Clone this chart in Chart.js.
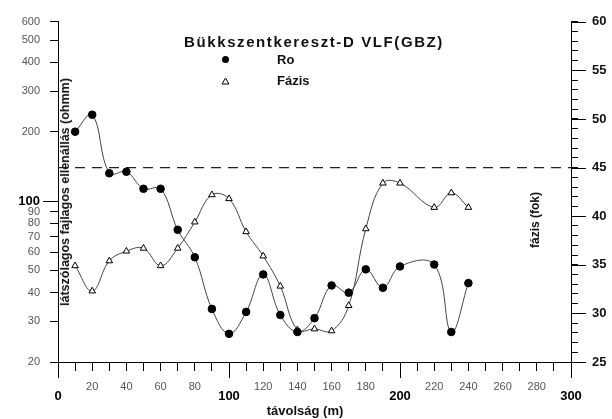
<!DOCTYPE html>
<html>
<head>
<meta charset="utf-8">
<script src="https://cdn.jsdelivr.net/npm/chart.js@4"></script>
<style>
  html, body { margin: 0; padding: 0; background: #fff; }
  #wrap { position: relative; width: 612px; height: 419px; font-family: "Liberation Sans", Arial, sans-serif; }
  #c { position: absolute; left: 0; top: 0; }
  .t { position: absolute; white-space: nowrap; color: #111; font-weight: bold; }
  #title { left: 314px; top: 41px; transform: translate(-50%, -50%); font-size: 15px; letter-spacing: 1.6px; }
  #leg1, #leg2 { left: 277px; font-size: 13px; transform: translateY(-50%); }
  #leg1 { top: 59px; }
  #leg2 { top: 80px; }
  #mk1 { position: absolute; left: 222px; top: 56px; width: 7px; height: 7px; border-radius: 50%; background: #000; }
  #mk2 { position: absolute; left: 221px; top: 77px; }
  #ytitle { left: 65px; top: 192px; transform: translate(-50%, -50%) rotate(-90deg); font-size: 12.5px; }
  #y2title { left: 535px; top: 220px; transform: translate(-50%, -50%) rotate(-90deg); font-size: 12px; }
  #xtitle { left: 305px; top: 410px; transform: translate(-50%, -50%); font-size: 13px; }
</style>
</head>
<body>
<div id="wrap">
  <canvas id="c" width="612" height="419"></canvas>
  <div class="t" id="title">Bükkszentkereszt-D VLF(GBZ)</div>
  <div id="mk1"></div>
  <svg id="mk2" width="9" height="8" viewBox="0 0 9 8"><polygon points="4.5,1 8,7 1,7" fill="#fff" stroke="#000" stroke-width="1"/></svg>
  <div class="t" id="leg1">Ro</div>
  <div class="t" id="leg2">Fázis</div>
  <div class="t" id="ytitle">látszólagos fajlagos ellenállás (ohmm)</div>
  <div class="t" id="y2title">fázis (fok)</div>
  <div class="t" id="xtitle">távolság (m)</div>
</div>
<script>
// ---- data ----
const distances = [10, 20, 30, 40, 50, 60, 70, 80, 90, 100, 110, 120, 130, 140, 150, 160, 170, 180, 190, 200, 220, 230, 240];
const roValues = [200, 237, 132, 134, 113, 113, 75, 57, 34, 26.5, 33, 48, 32, 27, 31, 43, 40, 50.5, 42, 52, 53, 27, 44];
const phaseValues = [34.9, 32.3, 35.4, 36.4, 36.7, 34.9, 36.7, 39.4, 42.2, 41.8, 38.4, 35.9, 32.8, 28.3, 28.4, 28.2, 30.8, 38.7, 43.4, 43.4, 40.9, 42.4, 40.9];
const refPhase = 45;
const leftTicks = [20, 30, 40, 50, 60, 70, 80, 90, 100, 200, 300, 400, 500, 600];
const xMajorTicks = [0, 100, 200, 300];
const rightMajorTicks = [25, 30, 35, 40, 45, 50, 55, 60];

const FONT = '"Liberation Sans", Arial, sans-serif';

const axisExtras = {
  id: 'axisExtras',
  afterDraw(chart) {
    const c = chart.ctx, ca = chart.chartArea;
    const sx = chart.scales.x, sy = chart.scales.y, sy1 = chart.scales.y1;
    c.save();
    c.strokeStyle = '#000';
    c.lineWidth = 1;
    c.beginPath();
    c.moveTo(ca.left - 8, ca.bottom + 0.5); c.lineTo(ca.left, ca.bottom + 0.5);
    xMajorTicks.forEach(v => {
      const px = Math.round(sx.getPixelForValue(v)) + 0.5;
      c.moveTo(px, ca.bottom); c.lineTo(px, ca.bottom + 16);
    });
    const p100 = Math.round(sy.getPixelForValue(100)) + 0.5;
    c.moveTo(ca.left - 15, p100); c.lineTo(ca.left, p100);
    rightMajorTicks.forEach(v => {
      const py = Math.round(sy1.getPixelForValue(v)) + 0.5;
      c.moveTo(ca.right, py); c.lineTo(ca.right + 15, py);
    });
    c.stroke();
    c.restore();
  }
};

new Chart(document.getElementById('c'), {
  type: 'line',
  data: {
    datasets: [
      {
        label: 'Ro',
        data: distances.map((d, i) => ({ x: d, y: roValues[i] })),
        yAxisID: 'y',
        borderColor: '#444',
        borderWidth: 1,
        tension: 0.4,
        pointStyle: 'circle',
        pointRadius: 3.8,
        pointBackgroundColor: '#000',
        pointBorderColor: '#000',
        pointBorderWidth: 1
      },
      {
        label: 'Fázis',
        data: distances.map((d, i) => ({ x: d, y: phaseValues[i] })),
        yAxisID: 'y1',
        borderColor: '#444',
        borderWidth: 1,
        tension: 0.4,
        pointStyle: 'triangle',
        pointRadius: 3.8,
        pointBackgroundColor: '#fff',
        pointBorderColor: '#000',
        pointBorderWidth: 1
      },
      {
        label: 'ref',
        data: [{ x: 0, y: refPhase }, { x: 300, y: refPhase }],
        yAxisID: 'y1',
        borderColor: '#222',
        borderWidth: 1.3,
        borderDash: [10, 7],
        pointRadius: 0,
        tension: 0
      }
    ]
  },
  options: {
    responsive: false,
    animation: false,
    layout: { padding: { top: 18, left: 0, right: 0, bottom: 0 } },
    plugins: { legend: { display: false }, title: { display: false }, tooltip: { enabled: false } },
    scales: {
      x: {
        type: 'linear', position: 'bottom', min: 0, max: 300,
        afterFit: s => { s.height = 57; },
        border: { display: true, color: '#000', width: 1 },
        grid: { display: true, drawOnChartArea: false, drawTicks: true, tickLength: 9, color: '#000', tickColor: '#000' },
        ticks: {
          stepSize: 10, autoSkip: false, maxRotation: 0, minRotation: 0, padding: 9,
          callback: v => (v % 20 === 0 || v % 100 === 0) ? String(v) : '',
          font: ctx => (ctx.tick && ctx.tick.value % 100 === 0)
            ? { family: FONT, size: 13, weight: 'bold', lineHeight: 2.55 }
            : { family: FONT, size: 11, weight: 'normal', lineHeight: 1.2 },
          color: ctx => (ctx.tick && ctx.tick.value % 100 === 0) ? '#000' : '#555'
        }
      },
      y: {
        type: 'logarithmic', position: 'left', min: 20, max: 600,
        afterFit: s => { s.width = 58; },
        afterBuildTicks: s => { s.ticks = leftTicks.map(v => ({ value: v })); },
        border: { display: true, color: '#000', width: 1 },
        grid: { display: true, drawOnChartArea: false, drawTicks: true, tickLength: 8, color: '#000', tickColor: '#000' },
        ticks: {
          autoSkip: false, padding: 10,
          callback: v => String(v),
          font: ctx => (ctx.tick && ctx.tick.value === 100)
            ? { family: FONT, size: 13, weight: 'bold' }
            : { family: FONT, size: 11, weight: 'normal' },
          color: ctx => (ctx.tick && ctx.tick.value === 100) ? '#000' : '#555'
        }
      },
      y1: {
        type: 'linear', position: 'right', min: 25, max: 60,
        afterFit: s => { s.width = 41; },
        border: { display: true, color: '#000', width: 1 },
        grid: { display: true, drawOnChartArea: false, drawTicks: true, tickLength: 7, color: '#000', tickColor: '#000' },
        ticks: {
          stepSize: 1, autoSkip: false, padding: 14,
          callback: v => (v % 5 === 0) ? String(v) : '',
          font: { family: FONT, size: 13, weight: 'bold' },
          color: '#111'
        }
      }
    }
  },
  plugins: [axisExtras]
});
</script>
</body>
</html>
